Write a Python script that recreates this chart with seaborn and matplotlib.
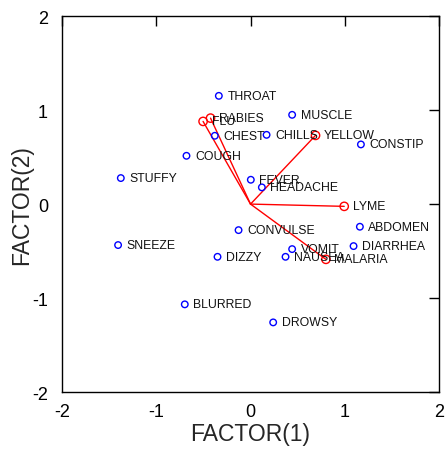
import matplotlib
matplotlib.use("Agg")
import matplotlib.pyplot as plt
import seaborn as sns
import pandas as pd

sns.set_style("white")
plt.rcParams['font.family'] = ['Liberation Sans', 'DejaVu Sans']

# symptom points (blue)
sym_names = ["THROAT", "MUSCLE", "CHEST", "CHILLS", "CONSTIP", "COUGH", "STUFFY",
             "FEVER", "HEADACHE", "ABDOMEN", "CONVULSE", "SNEEZE", "VOMIT",
             "DIARRHEA", "DIZZY", "NAUSEA", "BLURRED", "DROWSY"]
sym_x = [-0.336, 0.441, -0.379, 0.170, 1.170, -0.679, -1.375, 0.003, 0.120, 1.159,
         -0.127, -1.404, 0.441, 1.092, -0.350, 0.371, -0.697, 0.240]
sym_y = [1.152, 0.950, 0.727, 0.737, 0.635, 0.514, 0.277, 0.259, 0.178, -0.241,
         -0.277, -0.436, -0.479, -0.447, -0.561, -0.561, -1.067, -1.259]

# disease vectors (red)
dis_names = ["RABIES", "FLU", "YELLOW", "LYME", "MALARIA"]
dis_x = [-0.424, -0.503, 0.689, 0.993, 0.799]
dis_y = [0.915, 0.880, 0.731, -0.024, -0.588]

ticks = [-2, -1, 0, 1, 2]

sym = pd.DataFrame({"x": sym_x, "y": sym_y, "name": sym_names})
dis = pd.DataFrame({"x": dis_x, "y": dis_y, "name": dis_names})

fig = plt.figure(figsize=(4.45, 4.52), dpi=100)
ax = fig.add_axes([0.139, 0.1305, 0.848, 0.8315])

for xv, yv in zip(dis_x, dis_y):
    ax.plot([0, xv], [0, yv], color="red", lw=1.0, zorder=2)

sns.scatterplot(data=sym, x="x", y="y", ax=ax, s=22, facecolor="none",
                edgecolor="blue", linewidth=1.0, zorder=3)
sns.scatterplot(data=dis, x="x", y="y", ax=ax, s=36, facecolor="none",
                edgecolor="red", linewidth=1.0, zorder=3)

for df in (sym, dis):
    for _, r in df.iterrows():
        ax.text(r.x + 0.09, r.y, r["name"], fontsize=8.8, va="center", ha="left",
                color="#111111", zorder=4)

ax.set_xlim(-2, 2)
ax.set_ylim(-2, 2)
ax.set_xticks(ticks)
ax.set_yticks(ticks)
ax.set_xticklabels([str(t) for t in ticks])
ax.set_yticklabels([str(t) for t in ticks])
ax.tick_params(direction="in", length=7, width=1, labelsize=13, top=True, right=True,
               colors="black")
ax.tick_params(axis="x", pad=8)
ax.tick_params(axis="y", pad=10)
for s in ax.spines.values():
    s.set_color("black")
    s.set_linewidth(1)
ax.set_xlabel("FACTOR(1)", fontsize=16.5, labelpad=1)
ax.set_ylabel("FACTOR(2)", fontsize=16.5, labelpad=-1)

fig.savefig("out.png", dpi=100)
